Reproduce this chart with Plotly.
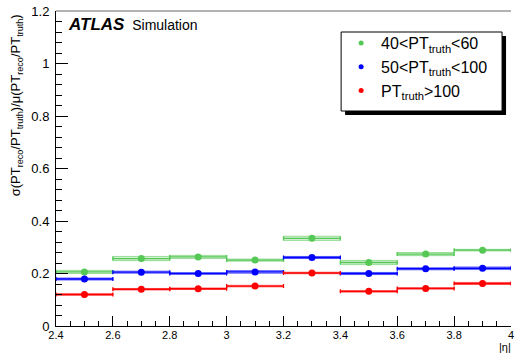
import plotly.graph_objects as go

eta_centers = [2.5, 2.7, 2.9, 3.1, 3.3, 3.5, 3.7, 3.9]
bin_halfwidth = [0.1] * 8

green_vals = [0.206, 0.257, 0.263, 0.251, 0.334, 0.242, 0.274, 0.289]
green_errs = [0.006, 0.008, 0.006, 0.004, 0.008, 0.008, 0.006, 0.003]
blue_vals = [0.179, 0.205, 0.200, 0.206, 0.261, 0.200, 0.218, 0.220]
blue_errs = [0.004, 0.004, 0.003, 0.005, 0.004, 0.004, 0.004, 0.005]
red_vals = [0.120, 0.140, 0.142, 0.152, 0.202, 0.132, 0.143, 0.162]
red_errs = [0.003, 0.003, 0.003, 0.003, 0.003, 0.003, 0.003, 0.004]

series = [
    ("40&lt;PT<sub>truth</sub>&lt;60", green_vals, green_errs, (85, 200, 85)),
    ("50&lt;PT<sub>truth</sub>&lt;100", blue_vals, blue_errs, (0, 0, 255)),
    ("PT<sub>truth</sub>&gt;100", red_vals, red_errs, (255, 0, 0)),
]

W, H = 516, 354
L, R, T, B = 56, 2, 11, 28
pw, ph = W - L - R, H - T - B

def px(x):  # window pixel -> paper
    return (x - L) / pw

def py(y):
    return (H - B - y) / ph

fig = go.Figure()
for name, vals, errs, c in series:
    fig.add_trace(go.Bar(
        x=eta_centers, y=[2 * e for e in errs], base=[v - e for v, e in zip(vals, errs)],
        width=0.2, marker=dict(color="rgba(%d,%d,%d,0.25)" % c,
                               line=dict(color="rgba(%d,%d,%d,0.55)" % c, width=1)),
        showlegend=False, hoverinfo="skip"))
for name, vals, errs, c in series:
    rgb = "rgb(%d,%d,%d)" % c
    fig.add_trace(go.Scatter(
        x=eta_centers, y=vals, mode="markers", name=name, showlegend=False,
        marker=dict(color=rgb, size=7, symbol="circle"),
        error_x=dict(type="data", array=bin_halfwidth, color=rgb, thickness=1.3, width=2),
    ))
for name, vals, errs, c in series:
    rgb = "rgb(%d,%d,%d)" % c
    fig.add_trace(go.Scatter(
        x=[None], y=[None], mode="markers", name=name,
        marker=dict(color=rgb, size=5, symbol="circle"),
    ))

# legend box with shadow
lx0, lx1, ly0, ly1 = 343, 505, 32, 111
fig.add_shape(type="rect", xref="paper", yref="paper",
              x0=px(lx0 + 4), x1=px(lx1 + 4), y0=py(ly1 + 4), y1=py(ly0 + 4),
              fillcolor="black", line=dict(width=0), layer="above")
fig.add_shape(type="rect", xref="paper", yref="paper",
              x0=px(lx0), x1=px(lx1), y0=py(ly1), y1=py(ly0),
              fillcolor="white", line=dict(color="black", width=1), layer="above")
# top frame line (grey)
fig.add_shape(type="line", xref="paper", yref="paper", x0=0, x1=1, y0=1, y1=1,
              line=dict(color="#999", width=1.5))

fig.add_annotation(xref="paper", yref="paper", x=px(66), y=py(25), xanchor="left", yanchor="middle",
                   text="<b><i><span style='font-size:17px'>ATLAS</span></i></b>"
                        "<span style='font-size:14px'>  Simulation</span>",
                   showarrow=False,
                   font=dict(family="Liberation Sans, Arial", size=14, color="black"))

fig.update_layout(
    width=W, height=H,
    margin=dict(l=L, r=R, t=T, b=B),
    paper_bgcolor="white", plot_bgcolor="white",
    barmode="overlay",
    font=dict(family="Liberation Sans, Arial", color="black"),
    legend=dict(x=px(lx0), y=py(ly0 - 6), xanchor="left", yanchor="top",
                bgcolor="rgba(0,0,0,0)", borderwidth=0,
                font=dict(size=16, color="black"), tracegroupgap=0),
    xaxis=dict(range=[2.4, 4.0], showgrid=False, zeroline=False,
               tickmode="array", tickvals=[2.4, 2.6, 2.8, 3.0, 3.2, 3.4, 3.6, 3.8, 4.0],
               ticktext=["2.4", "2.6", "2.8", "3", "3.2", "3.4", "3.6", "3.8", "4"],
               ticks="inside", ticklen=10, tickcolor="black",
               minor=dict(dtick=0.05, ticks="inside", ticklen=5, tickcolor="black"),
               showline=True, linecolor="black", linewidth=1, mirror=False,
               ticklabeloverflow="allow", ticklabelstandoff=-1,
               tickfont=dict(size=11)),
    yaxis=dict(range=[0, 1.2], showgrid=False, zeroline=False,
               tickmode="array", tickvals=[0, 0.2, 0.4, 0.6, 0.8, 1.0, 1.2],
               ticktext=["0", "0.2", "0.4", "0.6", "0.8", "1", "1.2"],
               ticks="inside", ticklen=12, tickcolor="black",
               minor=dict(dtick=0.04, ticks="inside", ticklen=6, tickcolor="black"),
               showline=True, linecolor="black", linewidth=1, mirror=False,
               ticklabeloverflow="allow", ticklabelstandoff=3,
               tickfont=dict(size=13)),
)
fig.add_annotation(xref="paper", yref="paper", x=px(508), y=py(347), text="|η|", showarrow=False,
                   xanchor="center", yanchor="middle", font=dict(size=11))
fig.add_annotation(xref="paper", yref="paper", x=px(16), y=py(12), textangle=-90,
                   text="σ(PT<sub>reco</sub>/PT<sub>truth</sub>)/μ(PT<sub>reco</sub>/PT<sub>truth</sub>)",
                   showarrow=False, xanchor="center", yanchor="top", font=dict(size=13))

fig.write_html(
    "out.html",
    config={"displayModeBar": False},
    post_script="document.body.style.margin='0';"
                "document.documentElement.style.overflow='hidden';"
                "document.body.style.overflow='hidden';",
)
